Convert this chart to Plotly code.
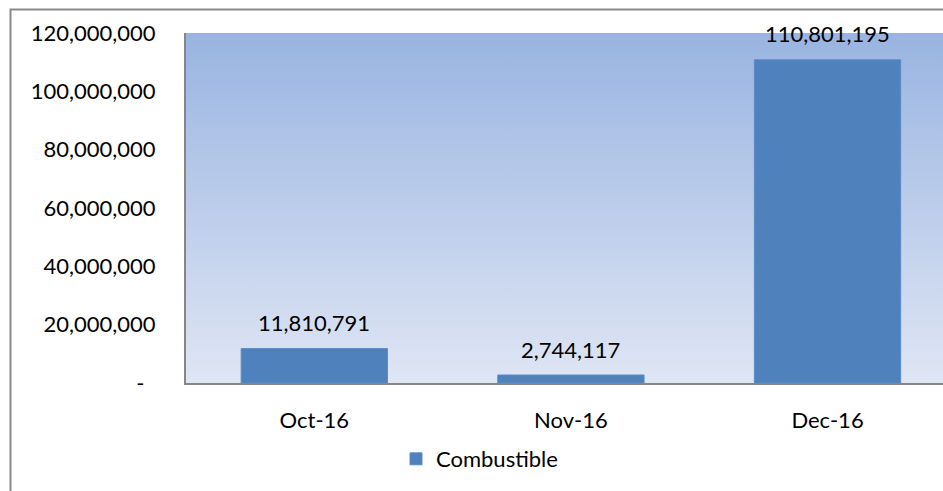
import plotly.graph_objects as go

months = ['Oct-16', 'Nov-16', 'Dec-16']
combustible = [11810791, 2744117, 110801195]

y_tickvals = [0, 20000000, 40000000, 60000000, 80000000, 100000000, 120000000]
y_ticktext = ['-\u00a0\u00a0', '20,000,000', '40,000,000', '60,000,000',
              '80,000,000', '100,000,000', '120,000,000']

W, H = 943, 491
ML, MR, MT, MB = 186, 0, 33, 108
x_range = [-0.5, 2.45]
y_range = [0, 120000000]
pos = list(range(len(months)))

font_family = 'Lato, "Noto Sans", sans-serif'
fs = 22

fig = go.Figure()

# gradient plot background (Excel style) on the base axes
fig.add_trace(go.Scatter(
    x=[x_range[0], x_range[1], x_range[1], x_range[0], x_range[0]],
    y=[y_range[0], y_range[0], y_range[1], y_range[1], y_range[0]],
    mode='none',
    fill='toself',
    fillgradient=dict(type='vertical',
                      colorscale=[[0, '#DFE6F4'], [1, '#99B4E1']]),
    hoverinfo='skip',
    showlegend=False,
    xaxis='x', yaxis='y',
))

# bars on overlaying axes so they sit above the background
fig.add_trace(go.Bar(
    x=pos,
    y=combustible,
    name='Combustible',
    width=0.57,
    marker=dict(color='#4F81BD', line=dict(color='#5B8BC6', width=1)),
    xaxis='x2', yaxis='y2',
))

# data labels above the bars
for p, v in zip(pos, combustible):
    fig.add_annotation(x=p, y=v, xref='x2', yref='y2', text=f'{v:,}',
                       showarrow=False, yanchor='middle', yshift=26,
                       font=dict(size=fs, color='black', family=font_family))

# outer chart border
pw = W - ML - MR
ph = H - MT - MB
fig.add_shape(type='rect', xref='paper', yref='paper',
              x0=(10.5 - ML) / pw, x1=(960 - ML) / pw,
              y0=(H - MB - 500) / ph, y1=(H - MB - 9.5) / ph,
              line=dict(color='#898989', width=2), layer='above')

fig.update_layout(
    width=W, height=H,
    margin=dict(l=ML, r=MR, t=MT, b=MB),
    paper_bgcolor='white',
    plot_bgcolor='rgba(0,0,0,0)',
    font=dict(family=font_family, size=fs, color='black'),
    showlegend=True,
    legend=dict(orientation='h', x=(396 - ML) / pw, xanchor='left',
                y=(H - MB - 459) / ph, yanchor='middle',
                font=dict(size=fs), bgcolor='rgba(0,0,0,0)'),
    xaxis=dict(range=x_range, visible=False, fixedrange=True),
    yaxis=dict(range=y_range, visible=False, fixedrange=True),
    xaxis2=dict(range=x_range, overlaying='x', tickvals=pos, ticktext=months,
                showgrid=False, showline=True, zeroline=False,
                linecolor='#868686', linewidth=2, ticks='',
                ticklabelstandoff=17),
    yaxis2=dict(range=y_range, overlaying='y', tickvals=y_tickvals,
                ticktext=y_ticktext, showgrid=False, showline=True,
                linecolor='#868686', linewidth=2, ticks='',
                ticklabelstandoff=24, zeroline=False),
)

fig.write_html('out.html', config={'displayModeBar': False},
               post_script="document.body.style.margin='0';"
                           "document.body.style.overflow='hidden';")
